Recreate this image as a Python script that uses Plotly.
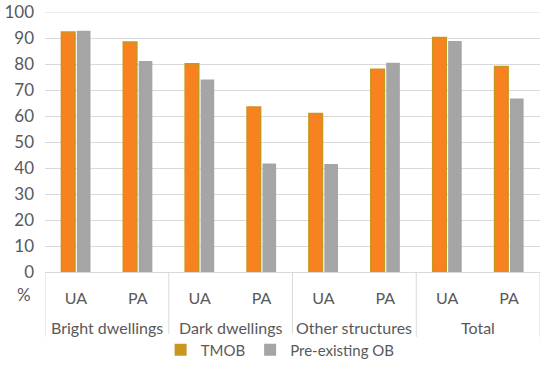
import plotly.graph_objects as go

groups = ["Bright dwellings", "Dark dwellings", "Other structures", "Total"]
metrics = ["UA", "PA", "UA", "PA", "UA", "PA", "UA", "PA"]
tmob = [92.3, 88.5, 80.1, 63.5, 61.0, 78.0, 90.2, 79.0]
pre_ob = [92.8, 81.2, 74.0, 41.7, 41.5, 80.5, 88.8, 66.7]
y_ticks = [0, 10, 20, 30, 40, 50, 60, 70, 80, 90, 100]

pos = list(range(len(metrics)))
per_group = len(metrics) // len(groups)

FONT = "Lato, Open Sans, Liberation Sans, sans-serif"
GREY_TXT = "#595959"
LINE = "#d9d9d9"

fig = go.Figure()
fig.add_trace(go.Bar(x=pos, y=tmob, name="TMOB", showlegend=False, offsetgroup="a",
                     marker=dict(color="#f7821f", line=dict(color="#c99620", width=1.5))))
fig.add_trace(go.Bar(x=pos, y=pre_ob, name="Pre-existing OB", showlegend=False, offsetgroup="b",
                     marker=dict(color="#a5a5a5", line=dict(width=0))))
# legend entries
fig.add_trace(go.Bar(x=[pos[0]], y=[None], name="TMOB", offsetgroup="a",
                     marker=dict(color="#c99620", line=dict(width=0))))
fig.add_trace(go.Bar(x=[pos[0]], y=[None], name="Pre-existing OB", offsetgroup="b",
                     marker=dict(color="#a5a5a5", line=dict(width=0))))

fig.update_layout(
    width=550, height=377,
    margin=dict(l=45, r=10, t=12, b=105, autoexpand=False),
    plot_bgcolor="white", paper_bgcolor="white",
    barmode="group", bargap=0.5, bargroupgap=0.12,
    font=dict(family=FONT, size=16, color=GREY_TXT),
    showlegend=True,
    legend=dict(orientation="h", x=0.475, xanchor="center", y=-0.30, yanchor="middle",
                font=dict(size=15, color=GREY_TXT), traceorder="normal"),
    xaxis=dict(range=[-0.5, len(metrics) - 0.5], tickvals=pos, ticktext=metrics,
               showline=True, linecolor=LINE, linewidth=1, showgrid=False, zeroline=False,
               ticks="", tickfont=dict(size=16, color=GREY_TXT), ticklabelstandoff=12),
    yaxis=dict(range=[0, 100], tickvals=y_ticks, showgrid=True, gridcolor=LINE,
               gridwidth=1, zeroline=False, tickfont=dict(size=17, color=GREY_TXT),
               ticks="", ticklabelstandoff=10, ticklabeloverflow="allow"),
)
# top gridline at 100
fig.add_shape(type="line", xref="paper", yref="y", x0=0, x1=1, y0=100, y1=100,
              line=dict(color=LINE, width=1))
# group labels and dividers
for gi, g in enumerate(groups):
    center = gi * per_group + (per_group - 1) / 2
    fig.add_annotation(text=g, x=center, xref="x", y=-0.213, yref="paper",
                       showarrow=False, font=dict(size=16, color=GREY_TXT), yanchor="middle")
for gi in range(len(groups) + 1):
    xd = gi * per_group - 0.5
    fig.add_shape(type="line", xref="x", yref="paper", x0=xd, x1=xd, y0=0, y1=-0.25,
                  line=dict(color=LINE, width=1))
fig.add_annotation(text="%", xref="paper", yref="paper", x=-0.024, y=-0.088,
                   showarrow=False, xanchor="right", yanchor="middle",
                   font=dict(size=17, color=GREY_TXT))
fig.write_html("out.html", config={"displayModeBar": False},
               post_script="document.body.style.margin='0';")
